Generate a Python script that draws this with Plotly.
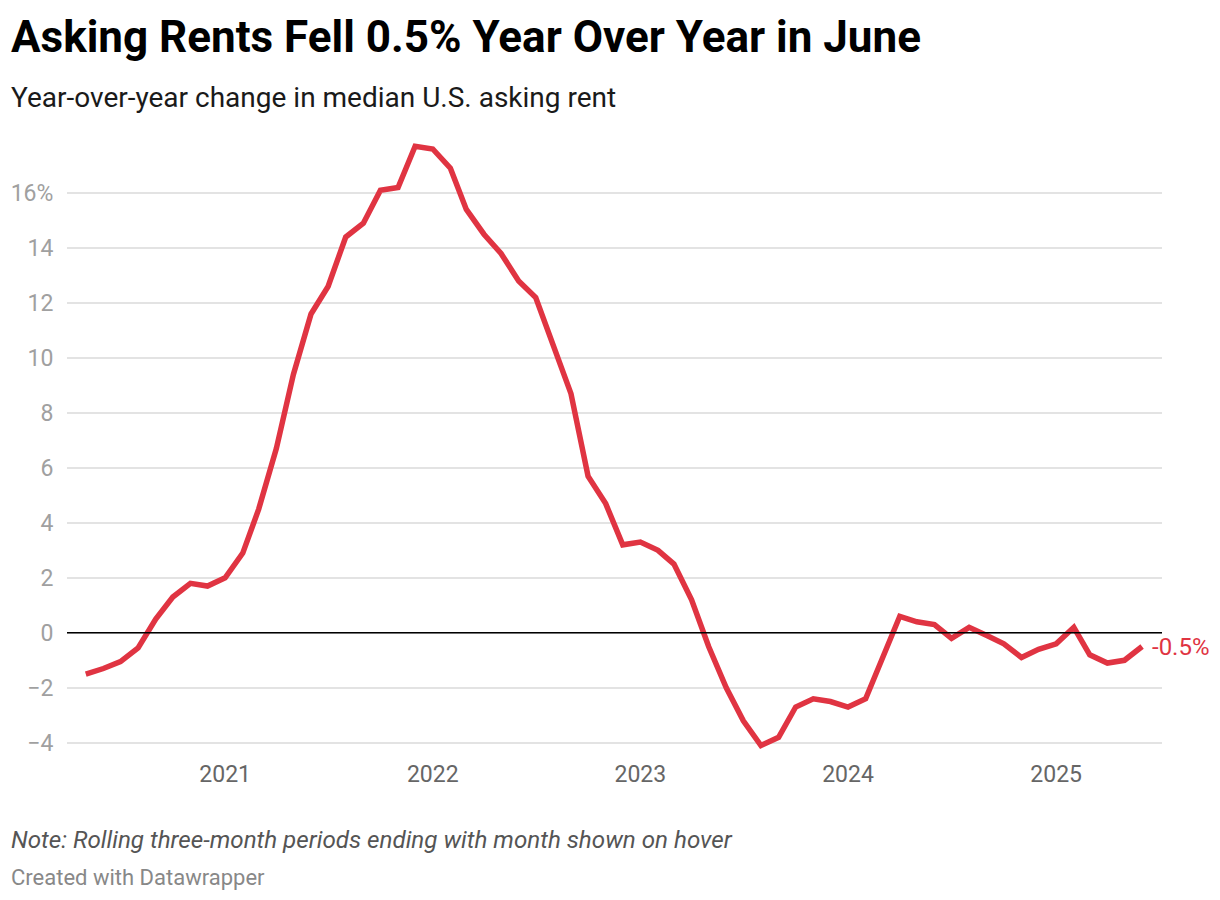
import plotly.graph_objects as go
import pandas as pd

# ---- data ----
start_month = "2020-05-01"
yoy_change = [
    -1.5, -1.3, -1.05, -0.55, 0.5, 1.3, 1.8, 1.7,            # May-Dec 2020
    2.0, 2.9, 4.5, 6.7, 9.4, 11.6, 12.6, 14.4, 14.9, 16.1, 16.2, 17.7,   # 2021
    17.6, 16.9, 15.4, 14.5, 13.8, 12.8, 12.2, 10.4, 8.7, 5.7, 4.7, 3.2,  # 2022
    3.3, 3.0, 2.5, 1.2, -0.5, -2.0, -3.2, -4.1, -3.8, -2.7, -2.4, -2.5,  # 2023
    -2.7, -2.4, -0.9, 0.6, 0.4, 0.3, -0.2, 0.2, -0.1, -0.4, -0.9, -0.6,  # 2024
    -0.4, 0.2, -0.8, -1.1, -1.0, -0.5,                                  # Jan-Jun 2025
]
months = pd.date_range(start_month, periods=len(yoy_change), freq="MS")

y_tick_vals = [-4, -2, 0, 2, 4, 6, 8, 10, 12, 14, 16]
y_tick_text = ["\u22124", "\u22122", "0", "2", "4", "6", "8", "10", "12", "14", "16%"]
x_tick_vals = ["2021-01-01", "2022-01-01", "2023-01-01", "2024-01-01", "2025-01-01"]
x_tick_text = ["2021", "2022", "2023", "2024", "2025"]

title_text = "Asking Rents Fell 0.5% Year Over Year in June"
subtitle_text = "Year-over-year change in median U.S. asking rent"
note_text = "Note: Rolling three-month periods ending with month shown on hover"
credit_text = "Created with Datawrapper"
end_label = "-0.5%"

# ---- layout geometry ----
W, H = 1220, 900
ML, MR, MT, MB = 67, 58, 138, 149
RED = "#e03442"
FONT = "Roboto"


def px_x(px):
    return (px - ML) / (W - ML - MR)


def px_y(py):
    return (H - MB - py) / (H - MT - MB)


fig = go.Figure()
fig.add_trace(go.Scatter(
    x=months, y=yoy_change, mode="lines",
    line=dict(color=RED, width=5.5, shape="linear"),
    hoverinfo="x+y", showlegend=False,
))

fig.add_hline(y=0, line=dict(color="#000000", width=1.5), layer="above")

fig.add_annotation(
    x=months[-1], y=yoy_change[-1], xref="x", yref="y",
    text=end_label, showarrow=False, xanchor="left", yanchor="middle",
    xshift=8, font=dict(family=FONT, size=24, color=RED),
)

texts = [
    (title_text, 9, 37, dict(family=FONT, size=44, color="#000000", weight=700)),
    (subtitle_text, 9, 97, dict(family=FONT, size=28, color="#1a1a1a")),
    (note_text, 9, 840, dict(family=FONT, size=24.2, color="#555555", style="italic")),
    (credit_text, 9, 877, dict(family=FONT, size=22, color="#888888")),
]
for t, x, y, f in texts:
    fig.add_annotation(
        x=px_x(x), y=px_y(y), xref="paper", yref="paper", text=t,
        showarrow=False, xanchor="left", yanchor="middle", font=f,
    )

fig.update_layout(
    width=W, height=H,
    margin=dict(l=ML, r=MR, t=MT, b=MB, autoexpand=False),
    paper_bgcolor="white", plot_bgcolor="white",
    font=dict(family=FONT),
    hovermode="x",
)
fig.update_xaxes(
    type="date", range=["2020-03-29", "2025-07-06"],
    tickvals=x_tick_vals, ticktext=x_tick_text,
    showgrid=False, zeroline=False, showline=False,
    ticks="outside", ticklen=2, tickcolor="rgba(0,0,0,0)",
    tickfont=dict(family=FONT, size=23, color="#666666"),
)
fig.update_yaxes(
    range=[-4.3, 18.0],
    tickvals=y_tick_vals, ticktext=y_tick_text,
    showgrid=True, gridcolor="#e3e3e3", gridwidth=1.5,
    zeroline=False, showline=False,
    ticks="outside", ticklen=8, tickcolor="rgba(0,0,0,0)",
    tickfont=dict(family=FONT, size=23, color="#a0a0a0"),
)

fig.write_html(
    "out.html",
    config={"displayModeBar": False},
    post_script="document.body.style.margin='0';",
)
